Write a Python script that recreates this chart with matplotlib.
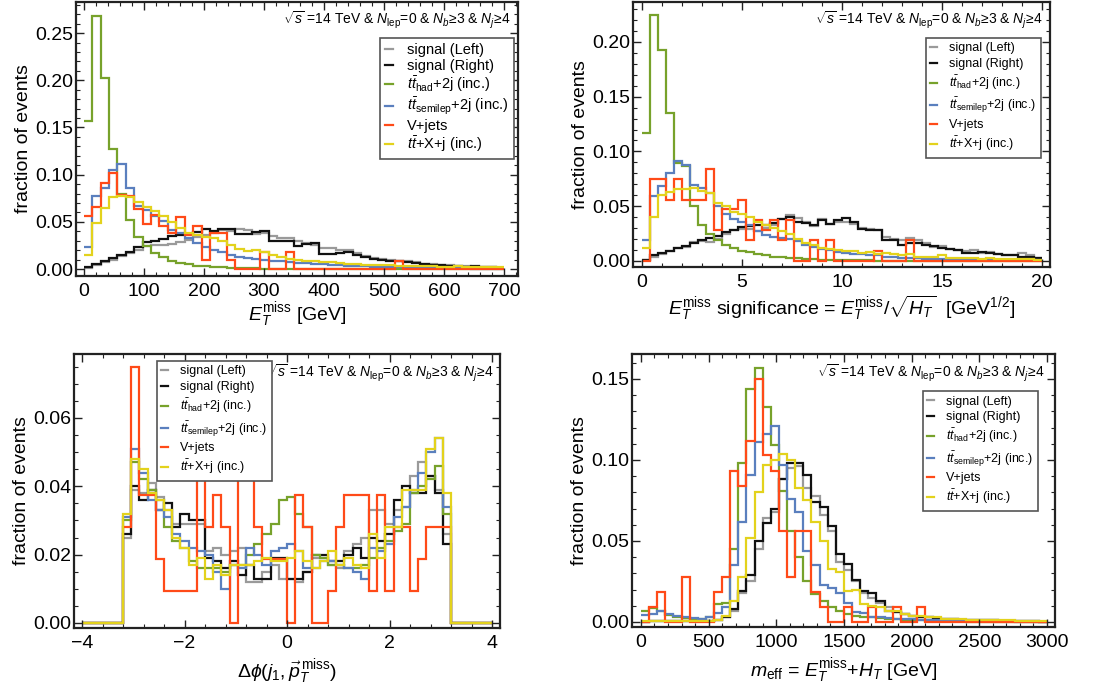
import numpy as np
import matplotlib
matplotlib.use("Agg")
import matplotlib.pyplot as plt
from matplotlib.ticker import MultipleLocator

plt.rcParams['font.family'] = ['Liberation Sans', 'DejaVu Sans']
plt.rcParams['mathtext.fontset'] = 'custom'
plt.rcParams['mathtext.rm'] = 'Liberation Sans'
plt.rcParams['mathtext.it'] = 'Liberation Sans:italic'
plt.rcParams['mathtext.bf'] = 'Liberation Sans:bold'

labels = ['signal (Left)', 'signal (Right)', r'$t\bar{t}_{\rm had}$+2j (inc.)',
          r'$t\bar{t}_{\rm semilep}$+2j (inc.)', 'V+jets', r'$t\bar{t}$+X+j (inc.)']
colors = ['#9a9a9a', '#111111', '#77a22b', '#5a7fbe', '#ff4a18', '#e3d21c']
cut_text = r'$\sqrt{s}$ =14 TeV & $N_{\rm lep}$=0 & $N_b$≥3 & $N_j$≥4'

# ---- panel 1: missing ET, 14 GeV bins
met_edges = np.arange(0, 701, 14)
met_left = [0.001, 0.004, 0.007, 0.010, 0.014, 0.017, 0.020, 0.024, 0.025, 0.025, 0.027, 0.029, 0.031, 0.034,
            0.036, 0.038, 0.041, 0.040, 0.042, 0.041, 0.037, 0.038, 0.035, 0.033, 0.033, 0.030, 0.028, 0.025,
            0.022, 0.022, 0.020, 0.020, 0.017, 0.014, 0.012, 0.011, 0.010, 0.009, 0.008, 0.007, 0.005, 0.005,
            0.004, 0.004, 0.003, 0.003, 0.002, 0.002, 0.002, 0.001]
met_right = [0.002, 0.005, 0.008, 0.012, 0.015, 0.018, 0.023, 0.029, 0.030, 0.032, 0.035, 0.036, 0.037, 0.039,
             0.042, 0.040, 0.042, 0.042, 0.037, 0.037, 0.039, 0.040, 0.030, 0.030, 0.030, 0.024, 0.026, 0.028,
             0.016, 0.016, 0.017, 0.018, 0.015, 0.013, 0.011, 0.010, 0.009, 0.008, 0.007, 0.006, 0.005, 0.004,
             0.004, 0.003, 0.003, 0.002, 0.003, 0.002, 0.002, 0.001]
met_had = [0.157, 0.268, 0.202, 0.127, 0.080, 0.052, 0.034, 0.024, 0.017, 0.0125, 0.009, 0.0065, 0.005, 0.0037,
           0.0027, 0.002, 0.0016, 0.0012, 0.001, 0.0008, 0.0006, 0.0005, 0.0004, 0.0003, 0.0003, 0.0002, 0.0001,
           0.0001, 0.0001, 0.0001, 0, 0, 0, 0, 0, 0, 0, 0, 0, 0, 0, 0, 0, 0, 0, 0, 0, 0, 0, 0]
met_semi = [0.023, 0.077, 0.086, 0.105, 0.111, 0.086, 0.067, 0.063, 0.056, 0.051, 0.041, 0.038, 0.033, 0.028,
            0.023, 0.020, 0.018, 0.0145, 0.013, 0.012, 0.011, 0.0095, 0.009, 0.008, 0.007, 0.0065, 0.006, 0.0055,
            0.005, 0.0045, 0.004, 0.0035, 0.003, 0.003, 0.0025, 0.0022, 0.002, 0.0018, 0.0015, 0.0013, 0.0012,
            0.001, 0.0009, 0.0008, 0.0007, 0.0006, 0.0005, 0.0004, 0.0003, 0.0003]
met_vjets = [0.056, 0.066, 0.091, 0.102, 0.078, 0.077, 0.064, 0.048, 0.057, 0.046, 0.038, 0.055, 0.036, 0.046,
             0.010, 0.038, 0.038, 0.010, 0, 0, 0, 0.018, 0, 0, 0.018, 0, 0, 0, 0, 0, 0, 0, 0, 0, 0, 0, 0,
             0.008, 0, 0, 0, 0, 0, 0, 0, 0, 0, 0, 0, 0]
met_ttx = [0.015, 0.049, 0.065, 0.076, 0.077, 0.076, 0.071, 0.066, 0.061, 0.056, 0.050, 0.043, 0.038, 0.036,
           0.034, 0.033, 0.030, 0.025, 0.021, 0.019, 0.020, 0.018, 0.015, 0.013, 0.011, 0.010, 0.009, 0.008,
           0.007, 0.007, 0.006, 0.005, 0.005, 0.004, 0.004, 0.004, 0.004, 0.003, 0.003, 0.003, 0.003, 0.003,
           0.002, 0.002, 0.003, 0.002, 0.002, 0.002, 0.002, 0.002]

# ---- panel 2: MET significance, 0.4 bins
sig_edges = np.linspace(0, 20, 51)
sig_left = [0.001, 0.004, 0.006, 0.009, 0.012, 0.013, 0.017, 0.018, 0.017, 0.020, 0.025, 0.028, 0.029, 0.029,
            0.027, 0.030, 0.033, 0.038, 0.042, 0.039, 0.036, 0.032, 0.038, 0.034, 0.036, 0.036, 0.034, 0.030,
            0.029, 0.028, 0.022, 0.020, 0.019, 0.021, 0.019, 0.016, 0.013, 0.014, 0.011, 0.010, 0.009, 0.010,
            0.007, 0.008, 0.006, 0.005, 0.005, 0.007, 0.005, 0.003]
sig_right = [0.001, 0.005, 0.007, 0.009, 0.012, 0.014, 0.016, 0.019, 0.021, 0.023, 0.026, 0.028, 0.031, 0.032,
             0.033, 0.033, 0.035, 0.038, 0.040, 0.036, 0.035, 0.033, 0.037, 0.034, 0.037, 0.039, 0.036, 0.029,
             0.028, 0.028, 0.019, 0.019, 0.015, 0.016, 0.016, 0.015, 0.014, 0.012, 0.011, 0.010, 0.007, 0.007,
             0.008, 0.007, 0.006, 0.005, 0.005, 0.004, 0.004, 0.003]
sig_had = [0.117, 0.225, 0.193, 0.135, 0.089, 0.087, 0.050, 0.033, 0.025, 0.019, 0.015, 0.012, 0.009, 0.008,
           0.006, 0.005, 0.004, 0.0035, 0.003, 0.0025, 0.002, 0.0015, 0.0012, 0.001, 0.001, 0.0008, 0.0007,
           0.0006, 0.0005, 0.0004, 0.0003, 0.0003, 0.0002, 0.0002, 0.0001, 0.0001, 0.0001, 0.0001, 0, 0, 0, 0,
           0, 0, 0, 0, 0, 0, 0, 0]
sig_semi = [0.019, 0.059, 0.068, 0.080, 0.091, 0.088, 0.069, 0.067, 0.062, 0.050, 0.043, 0.038, 0.036, 0.033,
            0.027, 0.024, 0.022, 0.021, 0.020, 0.018, 0.015, 0.013, 0.011, 0.010, 0.008, 0.007, 0.006, 0.006,
            0.005, 0.005, 0.004, 0.004, 0.003, 0.003, 0.003, 0.002, 0.002, 0.002, 0.002, 0.0015, 0.0015, 0.001,
            0.001, 0.001, 0.001, 0.0008, 0.0008, 0.0006, 0.0005, 0.0005]
sig_vjets = [0, 0.075, 0.075, 0.056, 0.075, 0.056, 0.056, 0.056, 0.084, 0.028, 0.047, 0.047, 0.056, 0.019,
             0.037, 0.028, 0.037, 0.019, 0.037, 0, 0, 0.019, 0, 0.019, 0, 0, 0, 0, 0, 0.009, 0, 0, 0, 0.019,
             0, 0, 0, 0, 0, 0, 0, 0, 0, 0, 0, 0, 0, 0, 0, 0]
sig_ttx = [0.012, 0.040, 0.060, 0.063, 0.066, 0.066, 0.067, 0.064, 0.062, 0.053, 0.050, 0.045, 0.043, 0.040,
           0.036, 0.033, 0.030, 0.027, 0.025, 0.020, 0.016, 0.015, 0.012, 0.011, 0.010, 0.009, 0.009, 0.007,
           0.008, 0.006, 0.007, 0.006, 0.005, 0.006, 0.004, 0.004, 0.004, 0.005, 0.003, 0.003, 0.003, 0.003,
           0.002, 0.003, 0.002, 0.002, 0.002, 0.002, 0.002, 0.001]

# ---- panel 3: delta phi(j1, MET), 0.16 bins
dphi_edges = np.linspace(-4, 4, 51)
dphi_left = [0] * 5 + [0.025, 0.039, 0.038, 0.041, 0.037, 0.033, 0.029, 0.029, 0.029, 0.029, 0.021, 0.022, 0.020,
                       0.021, 0.022, 0.012, 0.012, 0.015, 0.017, 0.013, 0.013, 0.012, 0.015, 0.019, 0.019, 0.017,
                       0.016, 0.021, 0.023, 0.025, 0.033, 0.033, 0.029, 0.033, 0.034, 0.043, 0.047, 0.043, 0.039,
                       0.026] + [0] * 5
dphi_right = [0] * 5 + [0.026, 0.040, 0.036, 0.039, 0.033, 0.035, 0.028, 0.032, 0.030, 0.030, 0.019, 0.018, 0.016,
                        0.018, 0.014, 0.017, 0.013, 0.013, 0.019, 0.019, 0.013, 0.013, 0.015, 0.020, 0.020, 0.018,
                        0.018, 0.020, 0.022, 0.019, 0.025, 0.024, 0.026, 0.036, 0.040, 0.038, 0.038, 0.043, 0.038,
                        0.023] + [0] * 5
dphi_had = [0] * 5 + [0.030, 0.047, 0.042, 0.039, 0.036, 0.028, 0.024, 0.022, 0.018, 0.016, 0.016, 0.016, 0.015,
                      0.017, 0.017, 0.020, 0.023, 0.026, 0.029, 0.036, 0.037, 0.032, 0.028, 0.020, 0.019, 0.017,
                      0.017, 0.016, 0.016, 0.017, 0.019, 0.022, 0.024, 0.027, 0.029, 0.038, 0.040, 0.042, 0.046,
                      0.032] + [0] * 5
dphi_semi = [0] * 5 + [0.031, 0.051, 0.044, 0.036, 0.033, 0.031, 0.026, 0.024, 0.022, 0.021, 0.020, 0.015, 0.010,
                       0.017, 0.016, 0.022, 0.020, 0.017, 0.021, 0.022, 0.023, 0.021, 0.016, 0.016, 0.018, 0.018,
                       0.017, 0.016, 0.015, 0.013, 0.022, 0.021, 0.023, 0.031, 0.034, 0.039, 0.044, 0.050, 0.054,
                       0.034] + [0] * 5
dphi_vjets = [0] * 5 + [0.028, 0.075, 0.0375, 0.0375, 0.0187, 0.0094, 0.0094, 0.0094, 0.0094, 0.047, 0.028,
                        0.0375, 0.028, 0, 0.047, 0.047, 0.028, 0.0187, 0.0187, 0.0187, 0, 0.0375, 0.028, 0, 0,
                        0.0094, 0.028, 0.0375, 0.0375, 0.0375, 0.0094, 0.0375, 0.0094, 0.028, 0.028, 0.0094,
                        0.0187, 0.028, 0.028, 0.028] + [0] * 5
dphi_ttx = [0] * 5 + [0.032, 0.048, 0.045, 0.038, 0.036, 0.033, 0.025, 0.022, 0.017, 0.019, 0.013, 0.017, 0.014,
                      0.017, 0.017, 0.017, 0.018, 0.019, 0.018, 0.018, 0.019, 0.021, 0.018, 0.016, 0.018, 0.021,
                      0.017, 0.019, 0.017, 0.016, 0.026, 0.019, 0.028, 0.028, 0.039, 0.039, 0.039, 0.051, 0.054,
                      0.038] + [0] * 5

# ---- panel 4: effective mass, 60 GeV bins
meff_edges = np.arange(0, 3001, 60)
meff_left = [0.0003, 0.0005, 0.0005, 0.0005, 0.0005, 0.0005, 0.0005, 0.0005, 0.0007, 0.001, 0.003, 0.007, 0.018,
             0.025, 0.045, 0.064, 0.068, 0.088, 0.095, 0.096, 0.083, 0.078, 0.066, 0.056, 0.037, 0.032, 0.025,
             0.018, 0.015, 0.012, 0.009, 0.006, 0.005, 0.004, 0.003, 0.003, 0.002, 0.002, 0.002, 0.001, 0.001,
             0.001, 0.001, 0.001, 0.0008, 0.0006, 0.0005, 0.0005, 0.0004, 0.0003]
meff_right = [0.0003, 0.0005, 0.0005, 0.0005, 0.0005, 0.0005, 0.0005, 0.0005, 0.0007, 0.001, 0.003, 0.008, 0.019,
              0.029, 0.050, 0.061, 0.070, 0.088, 0.098, 0.098, 0.091, 0.074, 0.071, 0.059, 0.042, 0.036, 0.026,
              0.019, 0.018, 0.013, 0.007, 0.006, 0.005, 0.004, 0.003, 0.003, 0.002, 0.002, 0.002, 0.001, 0.001,
              0.001, 0.001, 0.001, 0.0008, 0.0006, 0.0005, 0.0005, 0.0004, 0.0003]
meff_had = [0.0066, 0.0085, 0.0066, 0.0045, 0.003, 0.0025, 0.002, 0.002, 0.003, 0.011, 0.012, 0.045, 0.098, 0.144,
            0.157, 0.133, 0.109, 0.081, 0.056, 0.040, 0.025, 0.017, 0.013, 0.009, 0.007, 0.005, 0.004, 0.003,
            0.003, 0.0025, 0.002, 0.0018, 0.0015, 0.0013, 0.001, 0.0008, 0.0007, 0.0006, 0.0005, 0.0004, 0.0003,
            0.0003, 0.0002, 0.0002, 0.0001, 0.0001, 0.0001, 0.0001, 0, 0]
meff_semi = [0.0043, 0.0048, 0.0066, 0.005, 0.0035, 0.003, 0.0025, 0.002, 0.003, 0.0055, 0.009, 0.035, 0.062,
             0.091, 0.111, 0.116, 0.121, 0.097, 0.076, 0.068, 0.044, 0.035, 0.023, 0.021, 0.018, 0.012, 0.006,
             0.0055, 0.003, 0.003, 0.0025, 0.002, 0.002, 0.0018, 0.0015, 0.0013, 0.0012, 0.001, 0.001, 0.0009,
             0.0008, 0.0007, 0.0006, 0.0005, 0.0005, 0.0004, 0.0003, 0.0003, 0.0002, 0.0002]
meff_vjets = [0, 0.0094, 0.0187, 0, 0, 0.028, 0, 0, 0, 0.0187, 0.028, 0.0935, 0.084, 0.112, 0.150, 0.103, 0.0935,
              0.056, 0.028, 0.056, 0.056, 0.0187, 0.0094, 0, 0, 0.0094, 0, 0, 0.0094, 0, 0, 0.0094, 0, 0,
              0.0094, 0, 0, 0, 0, 0, 0, 0, 0, 0, 0, 0, 0, 0, 0, 0]
meff_ttx = [0.0005, 0.0005, 0.0005, 0.0005, 0.0005, 0.0005, 0.0005, 0.0005, 0.0008, 0.0015, 0.004, 0.013, 0.028,
            0.052, 0.080, 0.097, 0.100, 0.104, 0.100, 0.083, 0.075, 0.062, 0.050, 0.033, 0.031, 0.019, 0.020,
            0.011, 0.010, 0.009, 0.007, 0.007, 0.005, 0.004, 0.004, 0.003, 0.003, 0.002, 0.002, 0.002, 0.0015,
            0.0015, 0.001, 0.001, 0.001, 0.001, 0.0008, 0.0008, 0.0006, 0.0005]

panels = [
    dict(rect=[0.0693, 0.6046, 0.4029, 0.3926], edges=met_edges,
         series=[met_left, met_right, met_had, met_semi, met_vjets, met_ttx],
         xlim=(-13, 723), ylim=(-0.0074, 0.283), xmaj=100, xmin=20, ymaj=0.05, ymin=0.01,
         xlabel=r'$E_T^{\rm miss}$ [GeV]', xpad=0, leg=(0.688, 0.869), legfs=10.5, legsp=0.12,
         txt=(0.982, 0.934)),
    dict(rect=[0.5770, 0.6175, 0.3801, 0.3797], edges=sig_edges,
         series=[sig_left, sig_right, sig_had, sig_semi, sig_vjets, sig_ttx],
         xlim=(-0.45, 20.4), ylim=(-0.0055, 0.2365), xmaj=5, xmin=1, ymaj=0.05, ymin=0.01,
         xlabel=r'$E_T^{\rm miss}$ significance = $E_T^{\rm miss}/\sqrt{H_T}$  [GeV$^{1/2}$]', xpad=2,
         leg=(0.703, 0.864), legfs=9, legsp=0.3, txt=(0.983, 0.932)),
    dict(rect=[0.0675, 0.1003, 0.3883, 0.3926], edges=dphi_edges,
         series=[dphi_left, dphi_right, dphi_had, dphi_semi, dphi_vjets, dphi_ttx],
         xlim=(-4.156, 4.156), ylim=(-0.00146, 0.0787), xmaj=2, xmin=0.4, ymaj=0.02, ymin=0.005,
         xlabel=r'$\Delta\phi(j_1,\vec{p}_T^{\,\rm miss})$', xpad=4, leg=(0.195, 0.974), legfs=9, legsp=0.3,
         txt=(0.985, 0.93)),
    dict(rect=[0.5761, 0.1017, 0.3856, 0.3911], edges=meff_edges,
         series=[meff_left, meff_right, meff_had, meff_semi, meff_vjets, meff_ttx],
         xlim=(-66, 3059), ylim=(-0.0031, 0.1654), xmaj=500, xmin=100, ymaj=0.05, ymin=0.01,
         xlabel=r'$m_{\rm eff}$ = $E_T^{\rm miss}$+$H_T$ [GeV]', xpad=4, leg=(0.688, 0.864), legfs=9,
         legsp=0.3, txt=(0.976, 0.93)),
]

fig = plt.figure(figsize=(10.97, 6.98), dpi=100)

for p in panels:
    ax = fig.add_axes(p['rect'])
    for vals, col, lab in zip(p['series'], colors, labels):
        ax.stairs(vals, p['edges'], baseline=None, color=col, lw=1.6, label=lab)
    ax.set_xlim(*p['xlim'])
    ax.set_ylim(*p['ylim'])
    ax.xaxis.set_major_locator(MultipleLocator(p['xmaj']))
    ax.xaxis.set_minor_locator(MultipleLocator(p['xmin']))
    ax.yaxis.set_major_locator(MultipleLocator(p['ymaj']))
    ax.yaxis.set_minor_locator(MultipleLocator(p['ymin']))
    ax.yaxis.set_major_formatter(matplotlib.ticker.FormatStrFormatter('%.2f'))
    ax.tick_params(which='both', direction='in', top=True, right=True, labelsize=14, color='#222222')
    ax.tick_params(which='major', length=6, width=1.0)
    ax.tick_params(which='minor', length=3, width=0.8)
    ax.tick_params(axis='y', pad=2)
    ax.tick_params(axis='x', pad=5)
    for s in ax.spines.values():
        s.set_linewidth(1.6)
        s.set_color('#222222')
    ax.set_ylabel('fraction of events', fontsize=14, labelpad=2)
    ax.set_xlabel(p['xlabel'], fontsize=14, labelpad=p['xpad'])
    ax.text(p['txt'][0], p['txt'][1], cut_text, transform=ax.transAxes, ha='right', va='center',
            fontsize=10)
    leg = ax.legend(loc='upper left', bbox_to_anchor=p['leg'], fontsize=p['legfs'], frameon=True,
                    fancybox=False, framealpha=1, edgecolor='#555555', handlelength=0.5,
                    handletextpad=1.0, labelspacing=p['legsp'], borderpad=0.35, borderaxespad=0)
    leg.get_frame().set_linewidth(1.2)

fig.savefig('out.png', dpi=100)
